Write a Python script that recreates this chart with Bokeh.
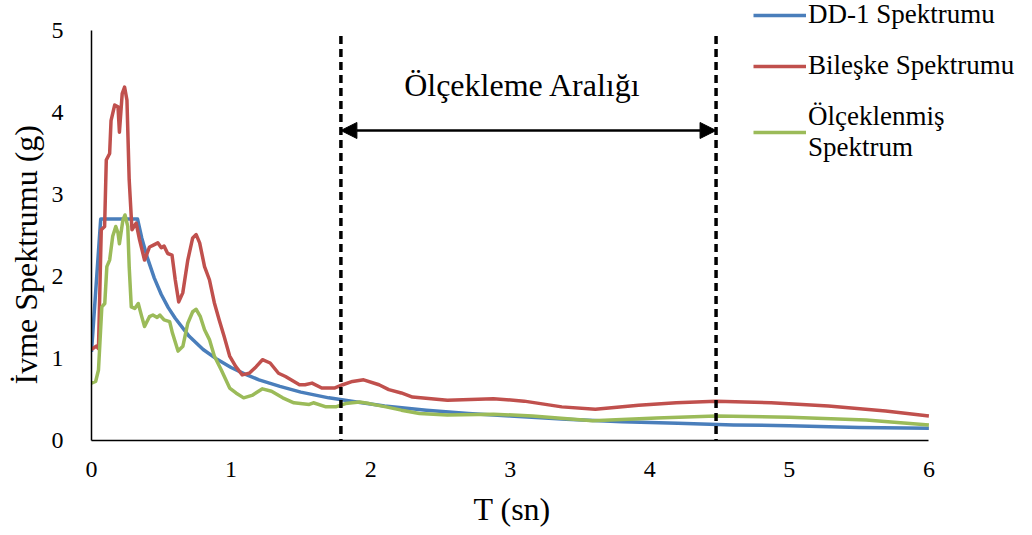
from bokeh.plotting import figure
from bokeh.models import Range1d, FixedTicker, Legend, LegendItem, Arrow, NormalHead, Title
from bokeh.core.properties import value
from bokeh.embed import file_html
from bokeh.resources import INLINE

# ---------------- data ----------------
x_ticks = [0, 1, 2, 3, 4, 5, 6]
y_ticks = [0, 1, 2, 3, 4, 5]
x_title = "T (sn)"
y_title = "İvme Spektrumu (g)"

series_names = ["DD-1 Spektrumu", "Bileşke Spektrumu", "Ölçeklenmiş\nSpektrum"]

T_dd = [0, 0.066, 0.33, 0.36, 0.4, 0.45, 0.5, 0.55, 0.6, 0.7, 0.8, 0.9, 1.0, 1.1, 1.2,
        1.35, 1.5, 1.7, 1.9, 2.1, 2.4, 2.7, 3.0, 3.4, 3.8, 4.2, 4.6, 5.0, 5.5, 6.0]
S_dd = [1.08, 2.70, 2.70, 2.47, 2.23, 1.98, 1.78, 1.62, 1.49, 1.27, 1.11, 0.99, 0.89, 0.81, 0.74,
        0.66, 0.59, 0.52, 0.47, 0.42, 0.37, 0.33, 0.30, 0.26, 0.23, 0.21, 0.19, 0.18, 0.16, 0.15]

T_bil = [0, 0.034, 0.05, 0.07, 0.094, 0.106, 0.13, 0.14, 0.166, 0.19, 0.20, 0.22, 0.237, 0.254, 0.27,
         0.29, 0.32, 0.344, 0.38, 0.416, 0.44, 0.475, 0.50, 0.52, 0.546, 0.577, 0.60, 0.625, 0.654, 0.69,
         0.725, 0.75, 0.775, 0.81, 0.845, 0.88, 0.915, 0.95, 0.99, 1.034, 1.08, 1.13, 1.18, 1.225, 1.28,
         1.34, 1.39, 1.49, 1.53, 1.58, 1.65, 1.74, 1.80, 1.87, 1.95, 2.06, 2.13, 2.22, 2.30, 2.55,
         2.88, 3.10, 3.37, 3.61, 3.92, 4.19, 4.475, 4.87, 5.28, 5.69, 6.0]
S_bil = [1.11, 1.15, 1.12, 2.57, 2.61, 3.42, 3.50, 3.90, 4.09, 4.07, 3.76, 4.23, 4.31, 4.15, 3.18,
         2.57, 2.65, 2.45, 2.20, 2.36, 2.38, 2.41, 2.35, 2.37, 2.28, 2.26, 1.96, 1.69, 1.80, 2.20,
         2.47, 2.51, 2.41, 2.12, 1.96, 1.68, 1.47, 1.27, 1.03, 0.90, 0.80, 0.82, 0.90, 0.985, 0.945,
         0.82, 0.78, 0.68, 0.68, 0.70, 0.64, 0.64, 0.68, 0.72, 0.74, 0.68, 0.62, 0.58, 0.53, 0.49,
         0.51, 0.48, 0.41, 0.38, 0.43, 0.46, 0.48, 0.46, 0.42, 0.36, 0.30]

T_olc = [0, 0.03, 0.05, 0.074, 0.095, 0.11, 0.13, 0.152, 0.174, 0.19, 0.20, 0.225, 0.24, 0.26, 0.27,
         0.285, 0.31, 0.335, 0.36, 0.38, 0.415, 0.44, 0.47, 0.49, 0.52, 0.56, 0.58, 0.62, 0.655, 0.69,
         0.725, 0.75, 0.78, 0.81, 0.845, 0.88, 0.93, 0.99, 1.035, 1.09, 1.15, 1.225, 1.29, 1.37, 1.45,
         1.56, 1.59, 1.68, 1.75, 1.82, 1.92, 1.99, 2.11, 2.22, 2.35, 2.55, 2.88, 3.16, 3.59, 4.05,
         4.475, 5.0, 5.55, 6.0]
S_olc = [0.70, 0.72, 0.86, 1.63, 1.67, 2.12, 2.20, 2.49, 2.61, 2.53, 2.40, 2.69, 2.75, 2.61, 2.12,
         1.63, 1.61, 1.67, 1.51, 1.39, 1.51, 1.53, 1.50, 1.53, 1.47, 1.45, 1.31, 1.09, 1.15, 1.43,
         1.57, 1.60, 1.51, 1.35, 1.23, 1.03, 0.86, 0.64, 0.58, 0.52, 0.55, 0.63, 0.60, 0.52, 0.46,
         0.44, 0.46, 0.41, 0.41, 0.45, 0.47, 0.45, 0.41, 0.37, 0.33, 0.31, 0.32, 0.30, 0.24, 0.275,
         0.30, 0.285, 0.25, 0.19]

# scaling range (period bounds) and annotation
scale_bounds = [1.787, 4.475]
bound_line_bottom = -0.08
bound_line_top = 4.95
arrow_level = 3.78
range_label = "Ölçekleme Aralığı"
range_label_x = 3.09
range_label_level = 4.33

colors = ["#4A7EBB", "#C0504D", "#9BBB59"]
FONT = "Liberation Serif"

# ---------------- figure ----------------
# frame extends to the right/top edges so the legend (outside the axes box) is not clipped;
# the axes themselves are limited to 0-6 and 0-5 with axis bounds
PX_PER_T = 140.1
PX_PER_S = 82.2
EXTRA_RIGHT = 104
EXTRA_TOP = 30
x_end = x_ticks[-1] + EXTRA_RIGHT / PX_PER_T
y_end = y_ticks[-1] + EXTRA_TOP / PX_PER_S

p = figure(width=1032, height=535, output_backend="svg", toolbar_location=None,
           x_range=Range1d(0, x_end), y_range=Range1d(0, y_end),
           min_border_left=88, min_border_right=0, min_border_top=0, min_border_bottom=94)
p.outline_line_color = None
p.grid.visible = False
p.background_fill_color = "white"

for ax in (p.xaxis[0], p.yaxis[0]):
    ax.major_tick_line_color = None
    ax.minor_tick_line_color = None
    ax.axis_line_color = "black"
    ax.axis_line_width = 1.5
    ax.major_label_text_font = FONT
    ax.major_label_text_font_size = "24px"
    ax.major_label_text_color = "black"

p.xaxis.bounds = (x_ticks[0], x_ticks[-1])
p.yaxis.bounds = (y_ticks[0], y_ticks[-1])
p.xaxis.ticker = FixedTicker(ticks=x_ticks)
p.yaxis.ticker = FixedTicker(ticks=y_ticks)
p.xaxis.major_label_standoff = 15
p.yaxis.major_label_standoff = 22

# axis titles as side titles, placed along the axes (not the enlarged frame)
xt = Title(text=x_title, align="left", offset=382, standoff=18,
           text_font=FONT, text_font_size="32px", text_font_style="normal", text_color="black")
yt = Title(text=y_title, align="left", offset=56, standoff=10,
           text_font=FONT, text_font_size="32px", text_font_style="normal", text_color="black")
p.add_layout(xt, "below")
p.add_layout(yt, "left")

r_dd = p.line(T_dd, S_dd, line_color=colors[0], line_width=3.5, line_join="round")
r_bil = p.line(T_bil, S_bil, line_color=colors[1], line_width=3.5, line_join="round")
r_olc = p.line(T_olc, S_olc, line_color=colors[2], line_width=3.5, line_join="round")

# scaling range boundaries
p.segment(x0=scale_bounds, y0=[bound_line_bottom] * 2, x1=scale_bounds, y1=[bound_line_top] * 2,
          line_color="black", line_width=3.5, line_dash="8 5")

head_s = NormalHead(size=16, fill_color="black", line_color="black")
head_e = NormalHead(size=16, fill_color="black", line_color="black")
p.add_layout(Arrow(start=head_s, end=head_e,
                   x_start=scale_bounds[0], y_start=arrow_level,
                   x_end=scale_bounds[1], y_end=arrow_level,
                   line_color="black", line_width=2.5))

p.text(x=[range_label_x], y=[range_label_level], text=[range_label],
       text_font=value(FONT), text_font_size="32px", text_align="center",
       text_baseline="middle", text_color="black")

legend = Legend(items=[LegendItem(label=series_names[0], renderers=[r_dd]),
                       LegendItem(label=series_names[1], renderers=[r_bil]),
                       LegendItem(label=series_names[2], renderers=[r_olc])],
                location=(662, 277))
legend.border_line_color = None
legend.background_fill_alpha = 0
legend.padding = 0
legend.margin = 0
legend.spacing = 20
legend.glyph_width = 53
legend.glyph_height = 30
legend.label_height = 30
legend.label_standoff = 2
legend.label_text_font = FONT
legend.label_text_font_size = "27px"
legend.label_text_color = "black"
legend.label_text_baseline = "middle"
p.add_layout(legend, "center")

open("out.html", "w").write(file_html(p, INLINE))
